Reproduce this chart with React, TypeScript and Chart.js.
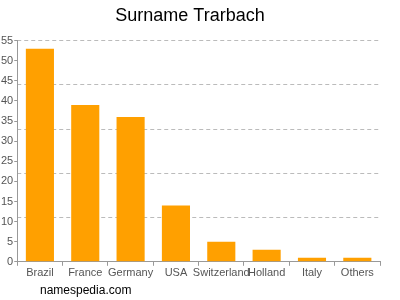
import React, { useEffect, useRef } from "react";
import { Chart, registerables } from "chart.js";
Chart.register(...registerables);

const categories = ["Brazil", "France", "Germany", "USA", "Switzerland", "Holland", "Italy", "Others"];
const counts = [53, 39, 36, 14, 5, 3, 1, 1];
const yMax = 55;
const labelStep = 5;
const gridStep = 11;
const titleText = "Surname Trarbach";
const footerText = "namespedia.com";

const FONT = "'Liberation Sans', Arial, sans-serif";

export default function App() {
  const ref = useRef<HTMLCanvasElement | null>(null);
  useEffect(() => {
    document.body.style.margin = "0";
    const footer = {
      id: "footer",
      afterDraw(chart: any) {
        const ctx = chart.ctx;
        ctx.save();
        ctx.font = `12px ${FONT}`;
        ctx.fillStyle = "#000";
        ctx.textBaseline = "middle";
        ctx.textAlign = "left";
        ctx.fillText(footerText, 40, 291);
        ctx.restore();
      },
    };
    const chart = new Chart(ref.current!, {
      type: "bar",
      data: {
        labels: categories,
        datasets: [
          {
            data: counts,
            backgroundColor: "#ffa000",
            barPercentage: 0.62,
            categoryPercentage: 1,
          },
        ],
      },
      plugins: [footer],
      options: {
        animation: false,
        responsive: false,
        layout: { padding: { left: 0, right: 20, top: 0, bottom: 19 } },
        plugins: {
          legend: { display: false },
          tooltip: { enabled: false },
          title: {
            display: true,
            text: titleText,
            color: "#000",
            font: { family: FONT, size: 18, weight: "normal" },
            padding: { top: 5, bottom: 14 },
          },
        },
        scales: {
          x: {
            grid: { display: true, drawOnChartArea: false, tickLength: 4, color: "#999" },
            border: { color: "#999" },
            ticks: { color: "#555", font: { family: FONT, size: 11 }, padding: 1, maxRotation: 0, autoSkip: false },
          },
          y: {
            min: 0,
            max: yMax,
            position: "left",
            ticks: { stepSize: labelStep, color: "#555", font: { family: FONT, size: 11 }, padding: 1 },
            grid: { display: true, drawOnChartArea: false, tickLength: 3, color: "#999" },
            border: { color: "#999" },
          },
          y2: {
            min: 0,
            max: yMax,
            position: "right",
            ticks: { display: false, stepSize: gridStep },
            grid: { color: "#bbb", drawTicks: false, lineWidth: 1 },
            border: { display: false, dash: [4, 3] },
          },
        },
      } as any,
    });
    return () => chart.destroy();
  }, []);
  return (
    <div style={{ position: "absolute", left: 0, top: 0, width: 400, height: 300 }}>
      <canvas ref={ref} width={400} height={300} />
    </div>
  );
}
